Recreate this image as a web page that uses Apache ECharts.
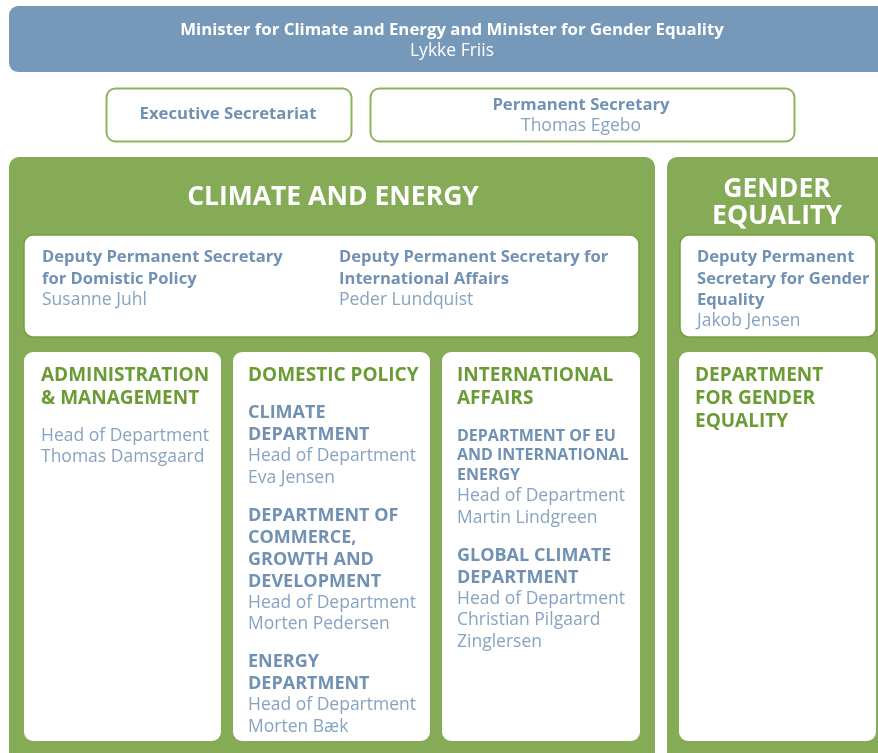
<!DOCTYPE html>
<html><head><meta charset="utf-8">
<script src="https://cdn.jsdelivr.net/npm/echarts@6/dist/echarts.min.js"></script>
<style>html,body{margin:0;padding:0;background:#fff;overflow:hidden}#c{width:878px;height:753px}</style>
</head><body><div id="c"></div>
<script>
// ---- content ----
const ministerLines = ["Minister for Climate and Energy and Minister for Gender Equality", "Lykke Friis"];
const secretariatLines = ["Executive Secretariat"];
const permSecLines = ["Permanent Secretary", "Thomas Egebo"];
const panelTitles = ["CLIMATE AND ENERGY", "GENDER\nEQUALITY"];
const deputyDomestic = ["Deputy Permanent Secretary", "for Domistic Policy", "Susanne Juhl"];
const deputyIntl = ["Deputy Permanent Secretary for", "International Affairs", "Peder Lundquist"];
const deputyGender = ["Deputy Permanent", "Secretary for Gender", "Equality", "Jakob Jensen"];
// unit columns: [heading lines], then sections of [dept lines], [name lines]
const adminUnit = { heading: ["ADMINISTRATION", "& MANAGEMENT"], sections: [{ dept: [], names: ["Head of Department", "Thomas Damsgaard"] }] };
const domesticUnit = { heading: ["DOMESTIC POLICY"], sections: [
  { dept: ["CLIMATE", "DEPARTMENT"], names: ["Head of Department", "Eva Jensen"] },
  { dept: ["DEPARTMENT OF", "COMMERCE,", "GROWTH AND", "DEVELOPMENT"], names: ["Head of Department", "Morten Pedersen"] },
  { dept: ["ENERGY", "DEPARTMENT"], names: ["Head of Department", "Morten Bæk"] }
]};
const intlUnit = { heading: ["INTERNATIONAL", "AFFAIRS"], sections: [
  { dept: ["DEPARTMENT OF EU", "AND INTERNATIONAL", "ENERGY"], small: true, names: ["Head of Department", "Martin Lindgreen"] },
  { dept: ["GLOBAL CLIMATE", "DEPARTMENT"], names: ["Head of Department", "Christian Pilgaard", "Zinglersen"] }
]};
const genderUnit = { heading: ["DEPARTMENT", "FOR GENDER", "EQUALITY"], sections: [] };

// ---- styles ----
const F = '"Open Sans", sans-serif';
const BLUE_BAR = '#7699b9', GREEN = '#86ab57', BORDER = '#8cb45d';
const T_BLUE = '#7191b3', T_NAME = '#87a3c2', T_GREEN = '#6b9b35';

const g = [];
function rect(x, y, w, h, r, fill, stroke, lw) {
  g.push({ type: 'rect', shape: { x, y, width: w, height: h, r }, style: { fill, stroke: stroke || null, lineWidth: lw || 0 } });
}
function text(str, x, y, font, fill, align) {
  g.push({ type: 'text', style: { text: str, x, y: y + 1.5, font, fill, align: align || 'left', verticalAlign: 'middle' } });
}

// minister bar
rect(9, 6, 900, 66, 9, BLUE_BAR);
text(ministerLines[0], 452, 29, 'bold 16.8px ' + F, '#fff', 'center');
text(ministerLines[1], 452, 50, '17.5px ' + F, '#fff', 'center');
// secretariat boxes
rect(106.5, 88.5, 245, 53, 9, '#fff', BORDER, 2);
text(secretariatLines[0], 228, 113, 'bold 16.7px ' + F, T_BLUE, 'center');
rect(370.5, 88.5, 424, 53, 9, '#fff', BORDER, 2);
text(permSecLines[0], 581, 104, 'bold 16.7px ' + F, T_BLUE, 'center');
text(permSecLines[1], 581, 125, '17.5px ' + F, T_NAME, 'center');

// panels
rect(9, 157, 646, 640, 10, GREEN);
rect(667, 157, 240, 640, 10, GREEN);
text(panelTitles[0], 333, 196, 'bold 26.5px ' + F, '#fff', 'center');
const gt = panelTitles[1].split('\n');
text(gt[0], 777, 188, 'bold 26.5px ' + F, '#fff', 'center');
text(gt[1], 777, 215, 'bold 26.5px ' + F, '#fff', 'center');

// deputy boxes
rect(24, 235, 615, 102, 9, '#fff', '#74a03f', 1.5);
rect(680, 235, 196, 102, 9, '#fff', '#74a03f', 1.5);
function deputy(lines, x) {
  lines.forEach((l, i) => {
    const isName = i === lines.length - 1;
    text(l, x, 256 + i * 21.3, isName ? '17.5px ' + F : 'bold 16.6px ' + F, isName ? T_NAME : T_BLUE);
  });
}
deputy(deputyDomestic, 42);
deputy(deputyIntl, 339);
deputy(deputyGender, 697);

// unit boxes
const unitBoxes = [[24, 197, adminUnit, 41], [233, 197, domesticUnit, 248], [442, 198, intlUnit, 457], [679, 197, genderUnit, 695]];
unitBoxes.forEach(([bx, bw, unit, tx]) => {
  rect(bx, 352, bw, 389, 9, '#fff');
  let y = 374;
  unit.heading.forEach((l, i) => { if (i) y += 23; text(l, tx, y, 'bold 19px ' + F, T_GREEN); });
  unit.sections.forEach((s) => {
    y += 37.5;
    let first = true;
    s.dept.forEach((l) => {
      if (!first) y += s.small ? 19.5 : 22;
      first = false;
      text(l, tx, y, 'bold ' + (s.small ? 16 : 18) + 'px ' + F, T_BLUE);
    });
    s.names.forEach((l) => {
      if (!first) y += 21.5;
      first = false;
      text(l, tx, y, '17.5px ' + F, T_NAME);
    });
  });
});

const chart = echarts.init(document.getElementById('c'));
chart.setOption({ animation: false, graphic: { elements: g } });
</script>
</body></html>
